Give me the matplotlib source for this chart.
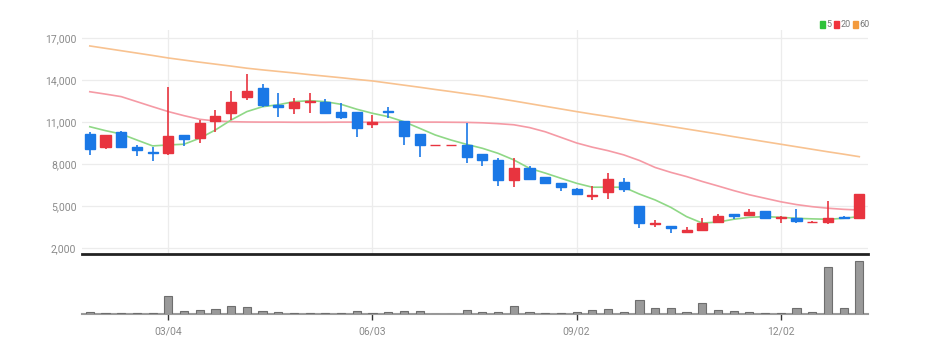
import matplotlib
matplotlib.use("Agg")
import matplotlib.pyplot as plt
from matplotlib import font_manager
from matplotlib.patches import Rectangle
import numpy as np
import pandas as pd

# ---------------- data ----------------
dates = pd.date_range("2024-01-29", periods=50, freq="W-MON")

opens = [10150, 9200, 10300, 9190, 8880, 8760, 10070, 9840, 11095, 11620,
         12810, 13400, 12240, 12020, 12400, 12450, 11690, 11740, 10840, 11810,
         11070, 10140, 9360, 9360, 9360, 8690, 8290, 6860, 7690, 7100,
         6660, 6190, 5710, 6020, 6740, 5000, 3690, 3590, 3140, 3290,
         3880, 4400, 4360, 4640, 4120, 4170, 3840, 3880, 4240, 4170]
highs = [10300, 10070, 10350, 9360, 9190, 13520, 10070, 11140, 11860, 13240,
         14430, 13710, 13050, 12690, 13050, 12620, 12380, 11740, 11500, 12090,
         11070, 10140, 9360, 9360, 10950, 8690, 8410, 8450, 7860, 7100,
         6660, 6310, 6430, 7380, 6980, 5000, 4000, 3590, 3520, 4120,
         4400, 4400, 4790, 4640, 4280, 4790, 3950, 5380, 4260, 5840]
lows = [8650, 9050, 9200, 8570, 8210, 8640, 9290, 9480, 10300, 11140,
        12570, 12100, 11380, 11570, 11660, 11570, 11190, 9950, 10590, 11260,
        9360, 8480, 9360, 9360, 8050, 7860, 6430, 6340, 6930, 6570,
        6070, 5830, 5430, 5480, 5980, 3400, 3480, 3050, 3090, 3290,
        3760, 4050, 4360, 4070, 3760, 3760, 3760, 3690, 4100, 4170]
closes = [9100, 10070, 9240, 9000, 8800, 10000, 9760, 10950, 11430, 12450,
          13240, 12210, 12060, 12450, 12480, 11660, 11340, 10590, 11020, 11740,
          10000, 9360, 9360, 9360, 8520, 8290, 6860, 7690, 6930, 6620,
          6340, 5830, 5790, 6930, 6210, 3760, 3760, 3400, 3290, 3810,
          4310, 4310, 4550, 4120, 4200, 3930, 3880, 4120, 4120, 5840]

ma5 = [10660, 10380, 10140, 9710, 9290, 9360, 9410, 9840, 10430, 11140,
       11740, 12090, 12230, 12450, 12520, 12450, 12260, 11910, 11620, 11380,
       11020, 10550, 10070, 9710, 9400, 9120, 8760, 8290, 7690, 7350,
       6980, 6620, 6340, 6340, 6340, 5850, 5430, 4900, 4240, 3780,
       3850, 4050, 4190, 4240, 4190, 4120, 4080, 4050, 4120, 4240]
ma20 = [13160, 12990, 12810, 12450, 12090, 11740, 11450, 11190, 11070, 11020,
        11000, 10990, 10990, 10980, 10980, 10980, 10990, 10990, 10980, 10980,
        10990, 10990, 10990, 10980, 10970, 10940, 10880, 10800, 10600, 10300,
        9900, 9500, 9200, 8950, 8650, 8250, 7750, 7400, 7100, 6750,
        6430, 6100, 5800, 5550, 5300, 5100, 4950, 4840, 4760, 4710]
ma60 = [16430, 16260, 16090, 15920, 15750, 15570, 15420, 15270, 15130, 14990,
        14840, 14720, 14610, 14500, 14380, 14270, 14160, 14040, 13930, 13780,
        13630, 13480, 13320, 13170, 13010, 12860, 12680, 12500, 12310, 12120,
        11930, 11740, 11560, 11390, 11210, 11030, 10860, 10680, 10500, 10320,
        10140, 9950, 9770, 9590, 9410, 9230, 9050, 8870, 8700, 8520]

volumes = [200, 100, 100, 100, 100, 1770, 270, 430, 500, 830,
           730, 270, 200, 100, 100, 100, 100, 270, 70, 200,
           300, 330, 0, 0, 430, 230, 230, 800, 230, 100,
           100, 170, 400, 470, 200, 1400, 570, 570, 230, 1070,
           400, 270, 200, 70, 70, 570, 200, 4730, 630, 5300]

yticks = [2000, 5000, 8000, 11000, 14000, 17000]
xtick_labels = ["03/04", "06/03", "09/02", "12/02"]
legend_labels = ["5", "20", "60"]

# ---------------- style ----------------
avail = {f.name for f in font_manager.fontManager.ttflist}
narrow = "Liberation Sans Narrow" if "Liberation Sans Narrow" in avail else "Roboto"
plt.rcParams["font.family"] = [narrow, "DejaVu Sans"]

UP = "#e8343f"
DOWN = "#1a78e6"
C5 = "#8fd886"
C20 = "#f59aa5"
C60 = "#f8c290"
GRID = "#ececec"
LBL = "#8a8a8a"

fig = plt.figure(figsize=(9.25, 3.53), dpi=100)
ax = fig.add_axes([0.0886, 0.2805, 0.8497, 0.6346])
axv = fig.add_axes([0.0886, 0.1105, 0.8497, 0.1615], sharex=ax)

x = np.arange(len(dates))
o = np.array(opens, float)
c = np.array(closes, float)
h = np.array(highs, float)
l = np.array(lows, float)
cols = [UP if cc >= oo else DOWN for oo, cc in zip(o, c)]

# MA lines
ax.plot(x, ma60, color=C60, lw=1.2, zorder=2)
ax.plot(x, ma20, color=C20, lw=1.2, zorder=2)
ax.plot(x, ma5, color=C5, lw=1.2, zorder=2)

# wicks and bodies
ax.vlines(x, l, h, colors=cols, lw=1.2, zorder=3)
body_bottom = np.minimum(o, c)
body_h = np.abs(c - o)
ax.bar(x, body_h, bottom=body_bottom, width=0.64, color=cols,
       edgecolor=cols, linewidth=1.0, zorder=4)

ax.set_xlim(-0.5, len(x) - 0.45)
ax.set_ylim(1571, 17571)
ax.set_yticks(yticks)
ax.set_yticklabels([f"{v:,}" for v in yticks])
ax.tick_params(axis="y", length=0, labelsize=7.5, labelcolor=LBL, pad=4)
ax.tick_params(axis="x", length=0, labelbottom=False)

tick_idx = [i for i, d in enumerate(dates) if d.strftime("%m/%d") in xtick_labels]
ax.set_xticks(tick_idx)
ax.grid(True, color=GRID, lw=0.9)
ax.set_axisbelow(True)
for s in ["top", "left", "right"]:
    ax.spines[s].set_visible(False)
ax.spines["bottom"].set_color("#222222")
ax.spines["bottom"].set_linewidth(2)

# volume
axv.bar(x, volumes, width=0.52, color="#9a9a9a", edgecolor="#6e6e6e",
        linewidth=0.8, zorder=3)
axv.set_ylim(0, 5700)
axv.set_yticks([])
for s in ["top", "left", "right"]:
    axv.spines[s].set_visible(False)
axv.spines["bottom"].set_color("#9a9a9a")
axv.spines["bottom"].set_linewidth(1.5)
axv.set_xticks(tick_idx)
axv.set_xticklabels([dates[i].strftime("%m/%d") for i in tick_idx])
axv.tick_params(axis="x", length=4, width=1, color="#333333",
                labelsize=7.5, labelcolor=LBL, pad=5)

# legend (top right)
leg_sq_cols = ["#2fc23a", "#f0323c", "#f39a3c"]
xpos = [820, 834, 853]
for px, lab, sc in zip(xpos, legend_labels, leg_sq_cols):
    fig.patches.append(Rectangle((px / 925, 1 - 28 / 353), 4.5 / 925, 7 / 353,
                                 transform=fig.transFigure, color=sc))
    fig.text((px + 6.5) / 925, 1 - 24.5 / 353, lab, fontsize=6.5, color="#777777",
             va="center", ha="left")

fig.savefig("out.png", dpi=100)
